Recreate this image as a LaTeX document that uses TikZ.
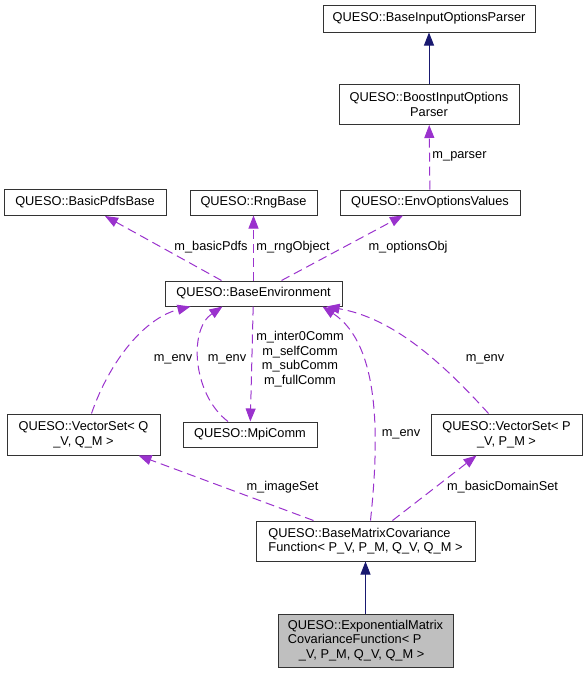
\documentclass[tikz,border=0pt]{standalone}
\usepackage{fontspec}
\setmainfont{Liberation Sans}
\usepackage{xcolor}
\definecolor{ColUse}{RGB}{154,50,205}
\definecolor{ColInh}{RGB}{25,25,112}
\usepackage{tikz}
\usetikzlibrary{arrows.meta}
\tikzstyle{Class}=[draw=black!80,fill=white,thick,line width=1pt,inner sep=2pt,
    align=center,font=\fontsize{12.8}{14.6}\selectfont]
\tikzstyle{ClassST}=[Class,fill=black!25]
\tikzstyle{Use}=[draw=ColUse,line width=1pt,dash pattern=on 9pt off 5pt,
    -{Triangle[length=13pt,width=10pt]},color=ColUse]
\tikzstyle{Inherit}=[draw=ColInh,line width=1pt,
    -{Triangle[length=13pt,width=10pt]},color=ColInh]
\tikzstyle{Label}=[inner sep=0pt,align=center,font=\fontsize{12.8}{14.6}\selectfont]

\begin{document}
\begin{tikzpicture}[x=1pt,y=1pt]
        \useasboundingbox(0,0)rectangle(587,-675);
        \node[Class,minimum width=212,minimum height=27](biop)at(429,-18.5)
            {QUESO::BaseInputOptionsParser};
        \node[Class,minimum width=180,minimum height=40](boost)at(429,-104.5)
            {QUESO::BoostInputOptions\\Parser};
        \node[Class,minimum width=180,minimum height=25](opts)at(430,-202.5)
            {QUESO::EnvOptionsValues};
        \node[Class,minimum width=162,minimum height=26](pdfs)at(85,-202.5)
            {QUESO::BasicPdfsBase};
        \node[Class,minimum width=127,minimum height=25](rng)at(253.5,-202.5)
            {QUESO::RngBase};
        \node[Class,minimum width=177,minimum height=25](env)at(253.5,-293.5)
            {QUESO::BaseEnvironment};
        \node[Class,minimum width=153,minimum height=41](vsq)at(83.5,-434.5)
            {QUESO::VectorSet< Q\\\_V, Q\_M >};
        \node[Class,minimum width=134,minimum height=25](mpi)at(250,-434.5)
            {QUESO::MpiComm};
        \node[Class,minimum width=151,minimum height=41](vsp)at(506.5,-434.5)
            {QUESO::VectorSet< P\\\_V, P\_M >};
        \node[Class,minimum width=219,minimum height=40,align=left](bmc)
            at(365.5,-541)
            {QUESO::BaseMatrixCovariance\\Function< P\_V, P\_M, Q\_V, Q\_M >};
        \node[ClassST,minimum width=175,minimum height=53,align=left](emc)
            at(365.5,-640.5)
            {QUESO::ExponentialMatrix\\CovarianceFunction< P\\
            \hspace*{11pt}\_V, P\_M, Q\_V, Q\_M >};
        \draw[Inherit](boost)--(biop);
        \draw[Inherit](emc)--(bmc);
        \draw[Use](opts)--(boost);
        \draw[Use]([xshift=-32pt]env.north)--([xshift=20pt]pdfs.south);
        \draw[Use](env)--(rng);
        \draw[Use]([xshift=28pt]env.north)--([xshift=-27pt]opts.south);
        \draw[Use](env)--(mpi);
        \draw[Use]([xshift=8pt]vsq.north)
            .. controls (110,-360) and (145,-318) .. ([xshift=-63pt]env.south);
        \draw[Use]([xshift=-22pt]mpi.north)
            .. controls (193,-395) and (188,-330) .. ([xshift=-31pt]env.south);
        \draw[Use]([xshift=5pt]bmc.north)
            .. controls (379,-440) and (381,-345) .. ([xshift=69pt]env.south);
        \draw[Use]([xshift=-18pt]vsp.north)
            .. controls (440,-360) and (392,-318) .. ([xshift=73pt]env.south);
        \draw[Use]([xshift=-52pt]bmc.north)--([xshift=55pt]vsq.south);
        \draw[Use]([xshift=27pt]bmc.north)--([xshift=-30pt]vsp.south);
        \node[Label](lpdfs)at(211,-247){m\_basicPdfs};
        \node[Label](lrng)at(293,-247){m\_rngObject};
        \node[Label](lopts)at(408,-247){m\_optionsObj};
        \node[Label](lparser)at(459.5,-156){m\_parser};
        \node[Label](lmpi)at(300,-359)
            {m\_inter0Comm\\m\_selfComm\\m\_subComm\\m\_fullComm};
        \node[Label](lenvq)at(173,-359){m\_env};
        \node[Label](lenvm)at(227,-359){m\_env};
        \node[Label](lenvp)at(485,-359){m\_env};
        \node[Label](lenvb)at(401,-434){m\_env};
        \node[Label](limage)at(282.5,-487){m\_imageSet};
        \node[Label](ldomain)at(502.5,-487){m\_basicDomainSet};
    \end{tikzpicture}
\end{document}
